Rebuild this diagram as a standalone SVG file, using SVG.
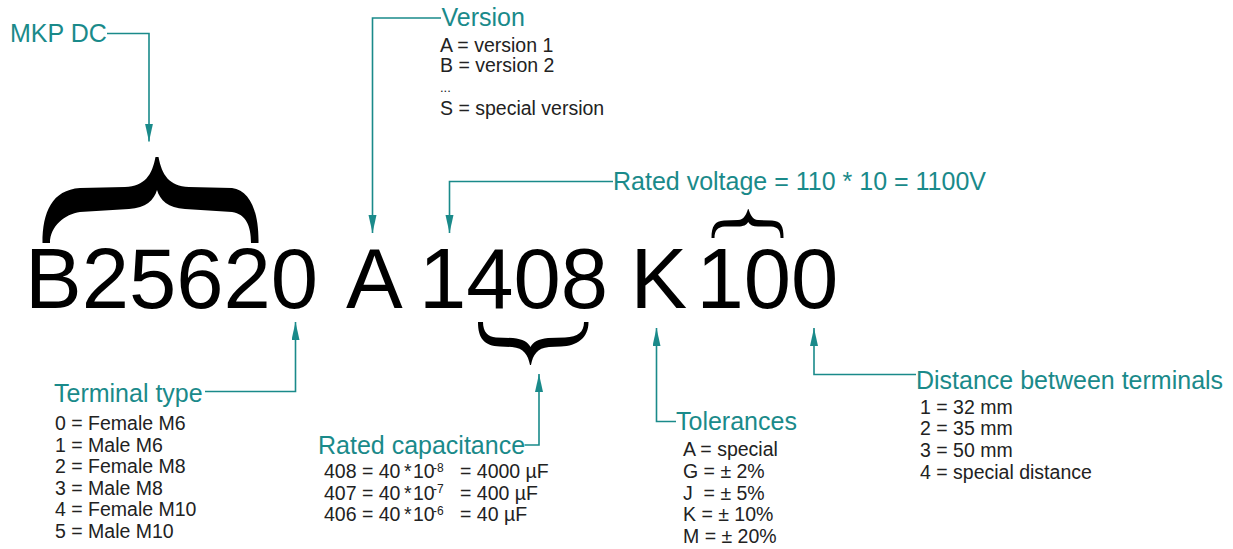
<svg xmlns="http://www.w3.org/2000/svg" width="1233" height="549" viewBox="0 0 1233 549">
<style>
.big{font-family:"Liberation Sans",Arial,sans-serif;font-size:85px;fill:#000}
.lbl{font-family:"Liberation Sans",Arial,sans-serif;font-size:25px;fill:#1a8a8a}
.lst{font-family:"Liberation Sans",Arial,sans-serif;font-size:19.5px;fill:#222}
.sup{font-size:12px}
.con{fill:none;stroke:#1a8a8a;stroke-width:1.6}
.brace{fill:#000}
</style>
<defs>
<marker id="ah" markerUnits="userSpaceOnUse" markerWidth="20" markerHeight="10" refX="18" refY="4" orient="auto">
<path d="M0,0 L18,4 L0,8 Z" fill="#1a8a8a"/>
</marker>
</defs>
<rect width="1233" height="549" fill="#fff"/>

<g id="code">
<text class="big" x="25" y="308">B25620</text>
<text class="big" x="346" y="308">A</text>
<text class="big" x="419" y="308">1408</text>
<text class="big" x="630.5" y="308">K</text>
<text class="big" x="696.5" y="308">100</text>
</g>

<g id="braces">
<path class="brace" d="M42.5,243 C42.5,212 52,190 80,188 L125,187 C145,186 152,175 155.5,157 L158.5,157 C162,175 169,186 189,187 L232,188 C250,190 259,212 258.5,243 L251,243 C251,226 246,214 232,212 L185,209 C168,208 160,200 157,190 C154,200 146,208 129,209 L80,212 C65,214 50,226 50,243 Z"/>
<path class="brace" d="M478,322 C478,338 484,346 500,346.5 L512,347 C524,348 528,355 530,365 L531,365 C533,355 537,348 549,347 L561,346.5 C577,346 588.5,338 588.5,322 L584,322 C584,332 578,337 565,337.5 L548,338 C538,339 533,342 530.5,347 C528,342 523,339 513,338 L496,337.5 C488,337 483,332 483,322 Z"/>
<path class="brace" d="M711.5,238 C711.5,226 715,221 724,220.5 L738,220 C744,219.5 746,215 748,209 L748.5,209 C750.5,215 752.5,219.5 758,220 L772,220.5 C781,221 783.5,226 783.5,238 L780.5,238 C780.5,230 778,227 771,226.5 L758,226.5 C753,226.5 750,225 748.2,222 C746.5,225 743.5,226.5 738,226.5 L724.5,226.5 C718,227 714.5,230 714.5,238 Z"/>
</g>

<g id="connectors">
<path class="con" d="M107,33.5 H149 V141.5" marker-end="url(#ah)"/>
<path class="con" d="M441,18 H372.5 V233" marker-end="url(#ah)"/>
<path class="con" d="M613,181.5 H449.5 V233" marker-end="url(#ah)"/>
<path class="con" d="M205,391.5 H295.5 V322" marker-end="url(#ah)"/>
<path class="con" d="M524.5,445 H539 V374" marker-end="url(#ah)"/>
<path class="con" d="M676,421.5 H656.5 V328" marker-end="url(#ah)"/>
<path class="con" d="M916,374.5 H814 V328" marker-end="url(#ah)"/>
</g>

<g id="mkp">
<text class="lbl" x="10" y="41.5">MKP DC</text>
</g>

<g id="version">
<text class="lbl" x="441.5" y="26">Version</text>
<text class="lst" x="440" y="51.5">A = version 1</text>
<text class="lst" x="440" y="72">B = version 2</text>
<text class="lst" x="440" y="92" style="font-size:13px">...</text>
<text class="lst" x="440" y="114.5">S = special version</text>
</g>

<g id="voltage">
<text class="lbl" x="613" y="189.5">Rated voltage = 110 * 10 = 1100V</text>
</g>

<g id="terminal">
<text class="lbl" x="54" y="401.5">Terminal type</text>
<text class="lst" x="55" y="430">0 = Female M6</text>
<text class="lst" x="55" y="451.5">1 = Male M6</text>
<text class="lst" x="55" y="473">2 = Female M8</text>
<text class="lst" x="55" y="494.5">3 = Male M8</text>
<text class="lst" x="55" y="516">4 = Female M10</text>
<text class="lst" x="55" y="538">5 = Male M10</text>
</g>

<g id="capacitance">
<text class="lbl" x="318" y="454">Rated capacitance</text>
<text class="lst" y="478"><tspan x="324">408 = 40</tspan><tspan x="404">*</tspan><tspan x="413">10</tspan><tspan class="sup" x="433" dy="-6.5">-8</tspan><tspan x="460" dy="6.5">= 4000 µF</tspan></text>
<text class="lst" y="499.5"><tspan x="324">407 = 40</tspan><tspan x="404">*</tspan><tspan x="413">10</tspan><tspan class="sup" x="433" dy="-6.5">-7</tspan><tspan x="460" dy="6.5">= 400 µF</tspan></text>
<text class="lst" y="521"><tspan x="324">406 = 40</tspan><tspan x="404">*</tspan><tspan x="413">10</tspan><tspan class="sup" x="433" dy="-6.5">-6</tspan><tspan x="460" dy="6.5">= 40 µF</tspan></text>
</g>

<g id="tolerances">
<text class="lbl" x="676" y="429.5">Tolerances</text>
<text class="lst" x="683" y="455.5">A = special</text>
<text class="lst" x="683" y="478">G = ± 2%</text>
<text class="lst" x="683" y="499.5">J&#160; = ± 5%</text>
<text class="lst" x="683" y="521">K = ± 10%</text>
<text class="lst" x="683" y="543">M = ± 20%</text>
</g>

<g id="distance">
<text class="lbl" x="916" y="388.5">Distance between terminals</text>
<text class="lst" x="920" y="413.5">1 = 32 mm</text>
<text class="lst" x="920" y="435">2 = 35 mm</text>
<text class="lst" x="920" y="456.5">3 = 50 mm</text>
<text class="lst" x="920" y="478.5">4 = special distance</text>
</g>
</svg>
